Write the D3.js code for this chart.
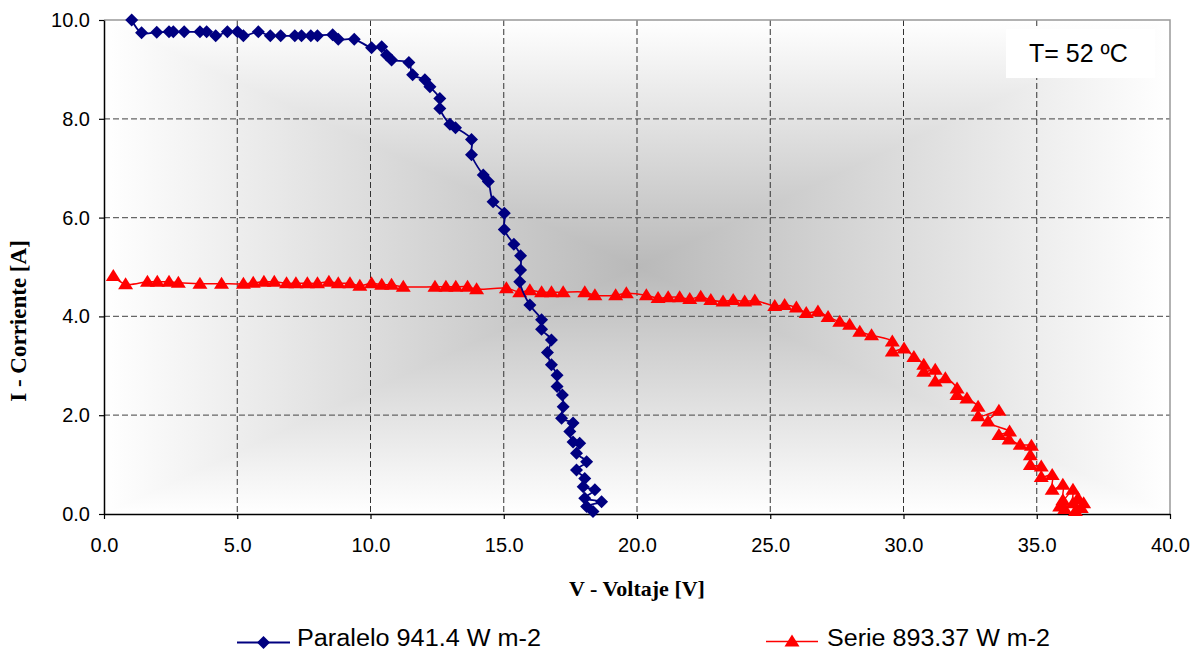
<!DOCTYPE html>
<html>
<head>
<meta charset="utf-8">
<script src="https://cdn.jsdelivr.net/npm/d3@7"></script>
<style>
  html, body { margin: 0; padding: 0; background: #fff; }
  svg { display: block; }
</style>
</head>
<body>
<svg id="chart" width="1203" height="652"></svg>
<script>
// Curva I-V de un panel: conexión en paralelo frente a conexión en serie
const xTicks = [0, 5, 10, 15, 20, 25, 30, 35, 40];
const yTicks = [0, 2, 4, 6, 8, 10];
const seriesNames = ["Paralelo 941.4 W m-2", "Serie 893.37 W m-2"];
const tempLabel = "T= 52 ºC";

const paraleloV = [1.04,1.41,1.98,2.44,2.6,3.01,3.6,3.85,4.19,4.63,5.01,5.23,5.79,6.24,6.63,7.16,7.41,7.76,8.01,8.58,8.79,9.39,
  10.04,10.42,10.6,10.79,11.44,11.58,12.04,12.23,12.6,12.6,12.98,13.19,13.79,13.79,14.23,14.42,14.6,15.02,15.02,15.38,15.63,15.63,15.6,
  15.98,16.42,16.42,16.79,16.64,16.79,17.0,17.0,17.2,17.23,17.17,17.6,17.48,17.6,17.85,17.73,18.11,17.73,18.04,17.98,18.42,18.04,18.67,18.11,18.35];
const paraleloI = [10.0,9.74,9.75,9.76,9.76,9.76,9.76,9.76,9.68,9.76,9.76,9.68,9.76,9.68,9.68,9.68,9.68,9.68,9.68,9.70,9.61,9.61,
  9.44,9.46,9.29,9.19,9.14,8.89,8.79,8.65,8.41,8.21,7.89,7.82,7.58,7.27,6.86,6.73,6.32,6.09,5.76,5.46,5.23,4.94,4.70,
  4.23,3.93,3.74,3.52,3.27,3.02,2.81,2.58,2.41,2.17,1.94,1.84,1.67,1.46,1.43,1.23,1.06,0.89,0.72,0.55,0.49,0.32,0.25,0.15,0.05];

const serieV = [0.35,0.81,1.63,2.0,2.44,2.79,3.6,4.41,5.23,5.6,6.0,6.39,6.85,7.2,7.63,8.01,8.44,8.79,9.23,9.6,10.04,10.42,10.79,11.23,
  12.42,12.83,13.2,13.64,13.98,15.1,15.6,15.98,16.42,16.79,17.23,18.04,18.42,19.2,19.6,20.35,20.79,21.17,21.6,21.98,22.39,22.77,23.23,
  23.61,24.04,24.42,25.17,25.54,25.98,26.35,26.79,27.17,27.61,27.98,28.36,28.8,29.58,29.58,30.02,30.39,30.76,30.76,31.19,31.19,31.57,
  32.01,32.01,32.38,32.8,32.8,33.58,33.17,33.98,33.58,33.96,34.38,34.8,34.76,34.76,35.17,35.17,35.58,35.58,35.98,35.98,36.36,36.36,
  36.76,35.86,36.05,36.55,36.45,36.67];
const serieI = [4.82,4.65,4.70,4.70,4.70,4.68,4.66,4.66,4.66,4.68,4.70,4.70,4.67,4.67,4.67,4.67,4.70,4.67,4.67,4.62,4.67,4.64,4.64,4.60,
  4.60,4.60,4.60,4.60,4.55,4.57,4.49,4.53,4.49,4.49,4.49,4.49,4.43,4.43,4.47,4.43,4.37,4.39,4.39,4.35,4.40,4.33,4.30,
  4.33,4.30,4.32,4.21,4.23,4.18,4.07,4.10,3.99,3.89,3.83,3.69,3.62,3.49,3.29,3.35,3.18,3.02,2.88,2.92,2.68,2.75,
  2.54,2.41,2.34,2.17,1.98,2.09,1.87,1.67,1.60,1.51,1.40,1.38,1.19,0.99,0.96,0.75,0.79,0.49,0.59,0.28,0.49,0.22,
  0.22,0.15,0.10,0.32,0.06,0.12];

const svg = d3.select("#chart");
const W = 1203, H = 652;
const plot = { left: 104, right: 1170, top: 20, bottom: 514 };

const x = d3.scaleLinear().domain([0, 40]).range([plot.left, plot.right]);
const y = d3.scaleLinear().domain([0, 10]).range([plot.bottom, plot.top]);

svg.append("rect").attr("width", W).attr("height", H).attr("fill", "#fff");

// Rectangular "from centre" background: horizontal gradient under, vertical triangles on top
const defs = svg.append("defs");
const cx = (plot.left + plot.right) / 2, cy = (plot.top + plot.bottom) / 2;
const edge = "#ffffff", mid = "#b9b9b9";

const gh = defs.append("linearGradient").attr("id", "bgH")
  .attr("gradientUnits", "userSpaceOnUse")
  .attr("x1", plot.left).attr("y1", 0).attr("x2", plot.right).attr("y2", 0);
gh.append("stop").attr("offset", 0).attr("stop-color", edge);
gh.append("stop").attr("offset", 0.5).attr("stop-color", mid);
gh.append("stop").attr("offset", 1).attr("stop-color", edge);

const gv = defs.append("linearGradient").attr("id", "bgV")
  .attr("gradientUnits", "userSpaceOnUse")
  .attr("x1", 0).attr("y1", plot.top).attr("x2", 0).attr("y2", plot.bottom);
gv.append("stop").attr("offset", 0).attr("stop-color", edge);
gv.append("stop").attr("offset", 0.5).attr("stop-color", mid);
gv.append("stop").attr("offset", 1).attr("stop-color", edge);

const bg = svg.append("g");
bg.append("rect")
  .attr("x", plot.left).attr("y", plot.top)
  .attr("width", plot.right - plot.left).attr("height", plot.bottom - plot.top)
  .attr("fill", "url(#bgH)");
const tri = (pts) => "M" + pts.map(p => p.join(",")).join("L") + "Z";
bg.append("path")
  .attr("d", tri([[plot.left, plot.top], [plot.right, plot.top], [cx, cy]]))
  .attr("fill", "url(#bgV)");
bg.append("path")
  .attr("d", tri([[plot.left, plot.bottom], [plot.right, plot.bottom], [cx, cy]]))
  .attr("fill", "url(#bgV)");

// Grid
const grid = svg.append("g");
grid.selectAll("line.h").data(yTicks.filter(d => d > 0 && d < 10)).join("line")
  .attr("x1", plot.left).attr("x2", plot.right)
  .attr("y1", d => y(d)).attr("y2", d => y(d))
  .attr("stroke", "#666").attr("stroke-width", 1.2).attr("stroke-dasharray", "6,3");
grid.selectAll("line.v").data(xTicks.filter(d => d > 0 && d < 40)).join("line")
  .attr("y1", plot.top).attr("y2", plot.bottom)
  .attr("x1", d => x(d)).attr("x2", d => x(d))
  .attr("stroke", "#333").attr("stroke-width", 1).attr("stroke-dasharray", "6,3");

// Plot frame (top and right)
svg.append("path")
  .attr("d", `M${plot.left},${plot.top}H${plot.right}V${plot.bottom}`)
  .attr("fill", "none").attr("stroke", "#999").attr("stroke-width", 1.5);

// Axes
const fmt = d3.format(".1f");
const yAxis = svg.append("g").attr("transform", `translate(${plot.left},0)`)
  .call(d3.axisLeft(y).tickValues(yTicks).tickFormat(fmt).tickSize(5).tickSizeOuter(0).tickPadding(9));
const xAxis = svg.append("g").attr("transform", `translate(0,${plot.bottom})`)
  .call(d3.axisBottom(x).tickValues(xTicks).tickFormat(fmt).tickSize(5).tickSizeOuter(0).tickPadding(19));
[xAxis, yAxis].forEach(a => {
  a.select(".domain").attr("stroke", "#000").attr("stroke-width", 1.5);
  a.selectAll(".tick line").attr("stroke", "#000").attr("stroke-width", 1.2);
  a.selectAll(".tick text").attr("fill", "#000")
    .style("font-family", "Arial, 'Liberation Sans', sans-serif").style("font-size", "20px");
});

// Axis titles
svg.append("text")
  .attr("x", cx).attr("y", 596)
  .attr("text-anchor", "middle")
  .style("font-family", "'Times New Roman', 'Liberation Serif', serif")
  .style("font-weight", "bold").style("font-size", "22px")
  .text("V - Voltaje [V]");
svg.append("text")
  .attr("transform", "translate(26,321) rotate(-90)")
  .attr("text-anchor", "middle")
  .style("font-family", "'Times New Roman', 'Liberation Serif', serif")
  .style("font-weight", "bold").style("font-size", "23px")
  .text("I - Corriente [A]");

// Series
const paralelo = paraleloV.map((v, i) => ({ v, i: paraleloI[i] }));
const serie = serieV.map((v, i) => ({ v, i: serieI[i] }));

const line = d3.line().x(d => x(d.v)).y(d => y(d.i)).curve(d3.curveCatmullRom.alpha(0.5));

const diamond = "M0,-6.5L6.5,0L0,6.5L-6.5,0Z";
const triangle = "M0,-7L7.5,5L-7.5,5Z";

const blue = "#000080", red = "#ff0000";

svg.append("path").datum(serie).attr("d", line)
  .attr("fill", "none").attr("stroke", red).attr("stroke-width", 1.5);
svg.append("g").selectAll("path").data(serie).join("path")
  .attr("d", triangle)
  .attr("transform", d => `translate(${x(d.v)},${y(d.i)})`)
  .attr("fill", red);

svg.append("path").datum(paralelo).attr("d", line)
  .attr("fill", "none").attr("stroke", blue).attr("stroke-width", 1.8);
svg.append("g").selectAll("path").data(paralelo).join("path")
  .attr("d", diamond)
  .attr("transform", d => `translate(${x(d.v)},${y(d.i)})`)
  .attr("fill", blue);

// Temperature note
svg.append("rect").attr("x", 1006).attr("y", 29).attr("width", 149).attr("height", 49).attr("fill", "#fff");
svg.append("text")
  .attr("x", 1029).attr("y", 62)
  .style("font-family", "Arial, 'Liberation Sans', sans-serif").style("font-size", "25px")
  .text(tempLabel);

// Legend
const legend = svg.append("g");
const items = [
  { name: seriesNames[0], color: blue, marker: diamond, x0: 237, x1: 290, ly: 642.5, tx: 297, len: 244 },
  { name: seriesNames[1], color: red, marker: triangle, x0: 766, x1: 818, ly: 641.5, tx: 827, len: 223 }
];
items.forEach(it => {
  legend.append("line").attr("x1", it.x0).attr("x2", it.x1).attr("y1", it.ly).attr("y2", it.ly)
    .attr("stroke", it.color).attr("stroke-width", it.color === blue ? 2 : 1.5);
  legend.append("path").attr("d", it.marker)
    .attr("transform", `translate(${(it.x0 + it.x1) / 2},${it.ly})`).attr("fill", it.color);
  legend.append("text").attr("x", it.tx).attr("y", 646)
    .attr("textLength", it.len).attr("lengthAdjust", "spacingAndGlyphs")
    .style("font-family", "Arial, 'Liberation Sans', sans-serif").style("font-size", "23px")
    .text(it.name);
});
</script>
</body>
</html>
